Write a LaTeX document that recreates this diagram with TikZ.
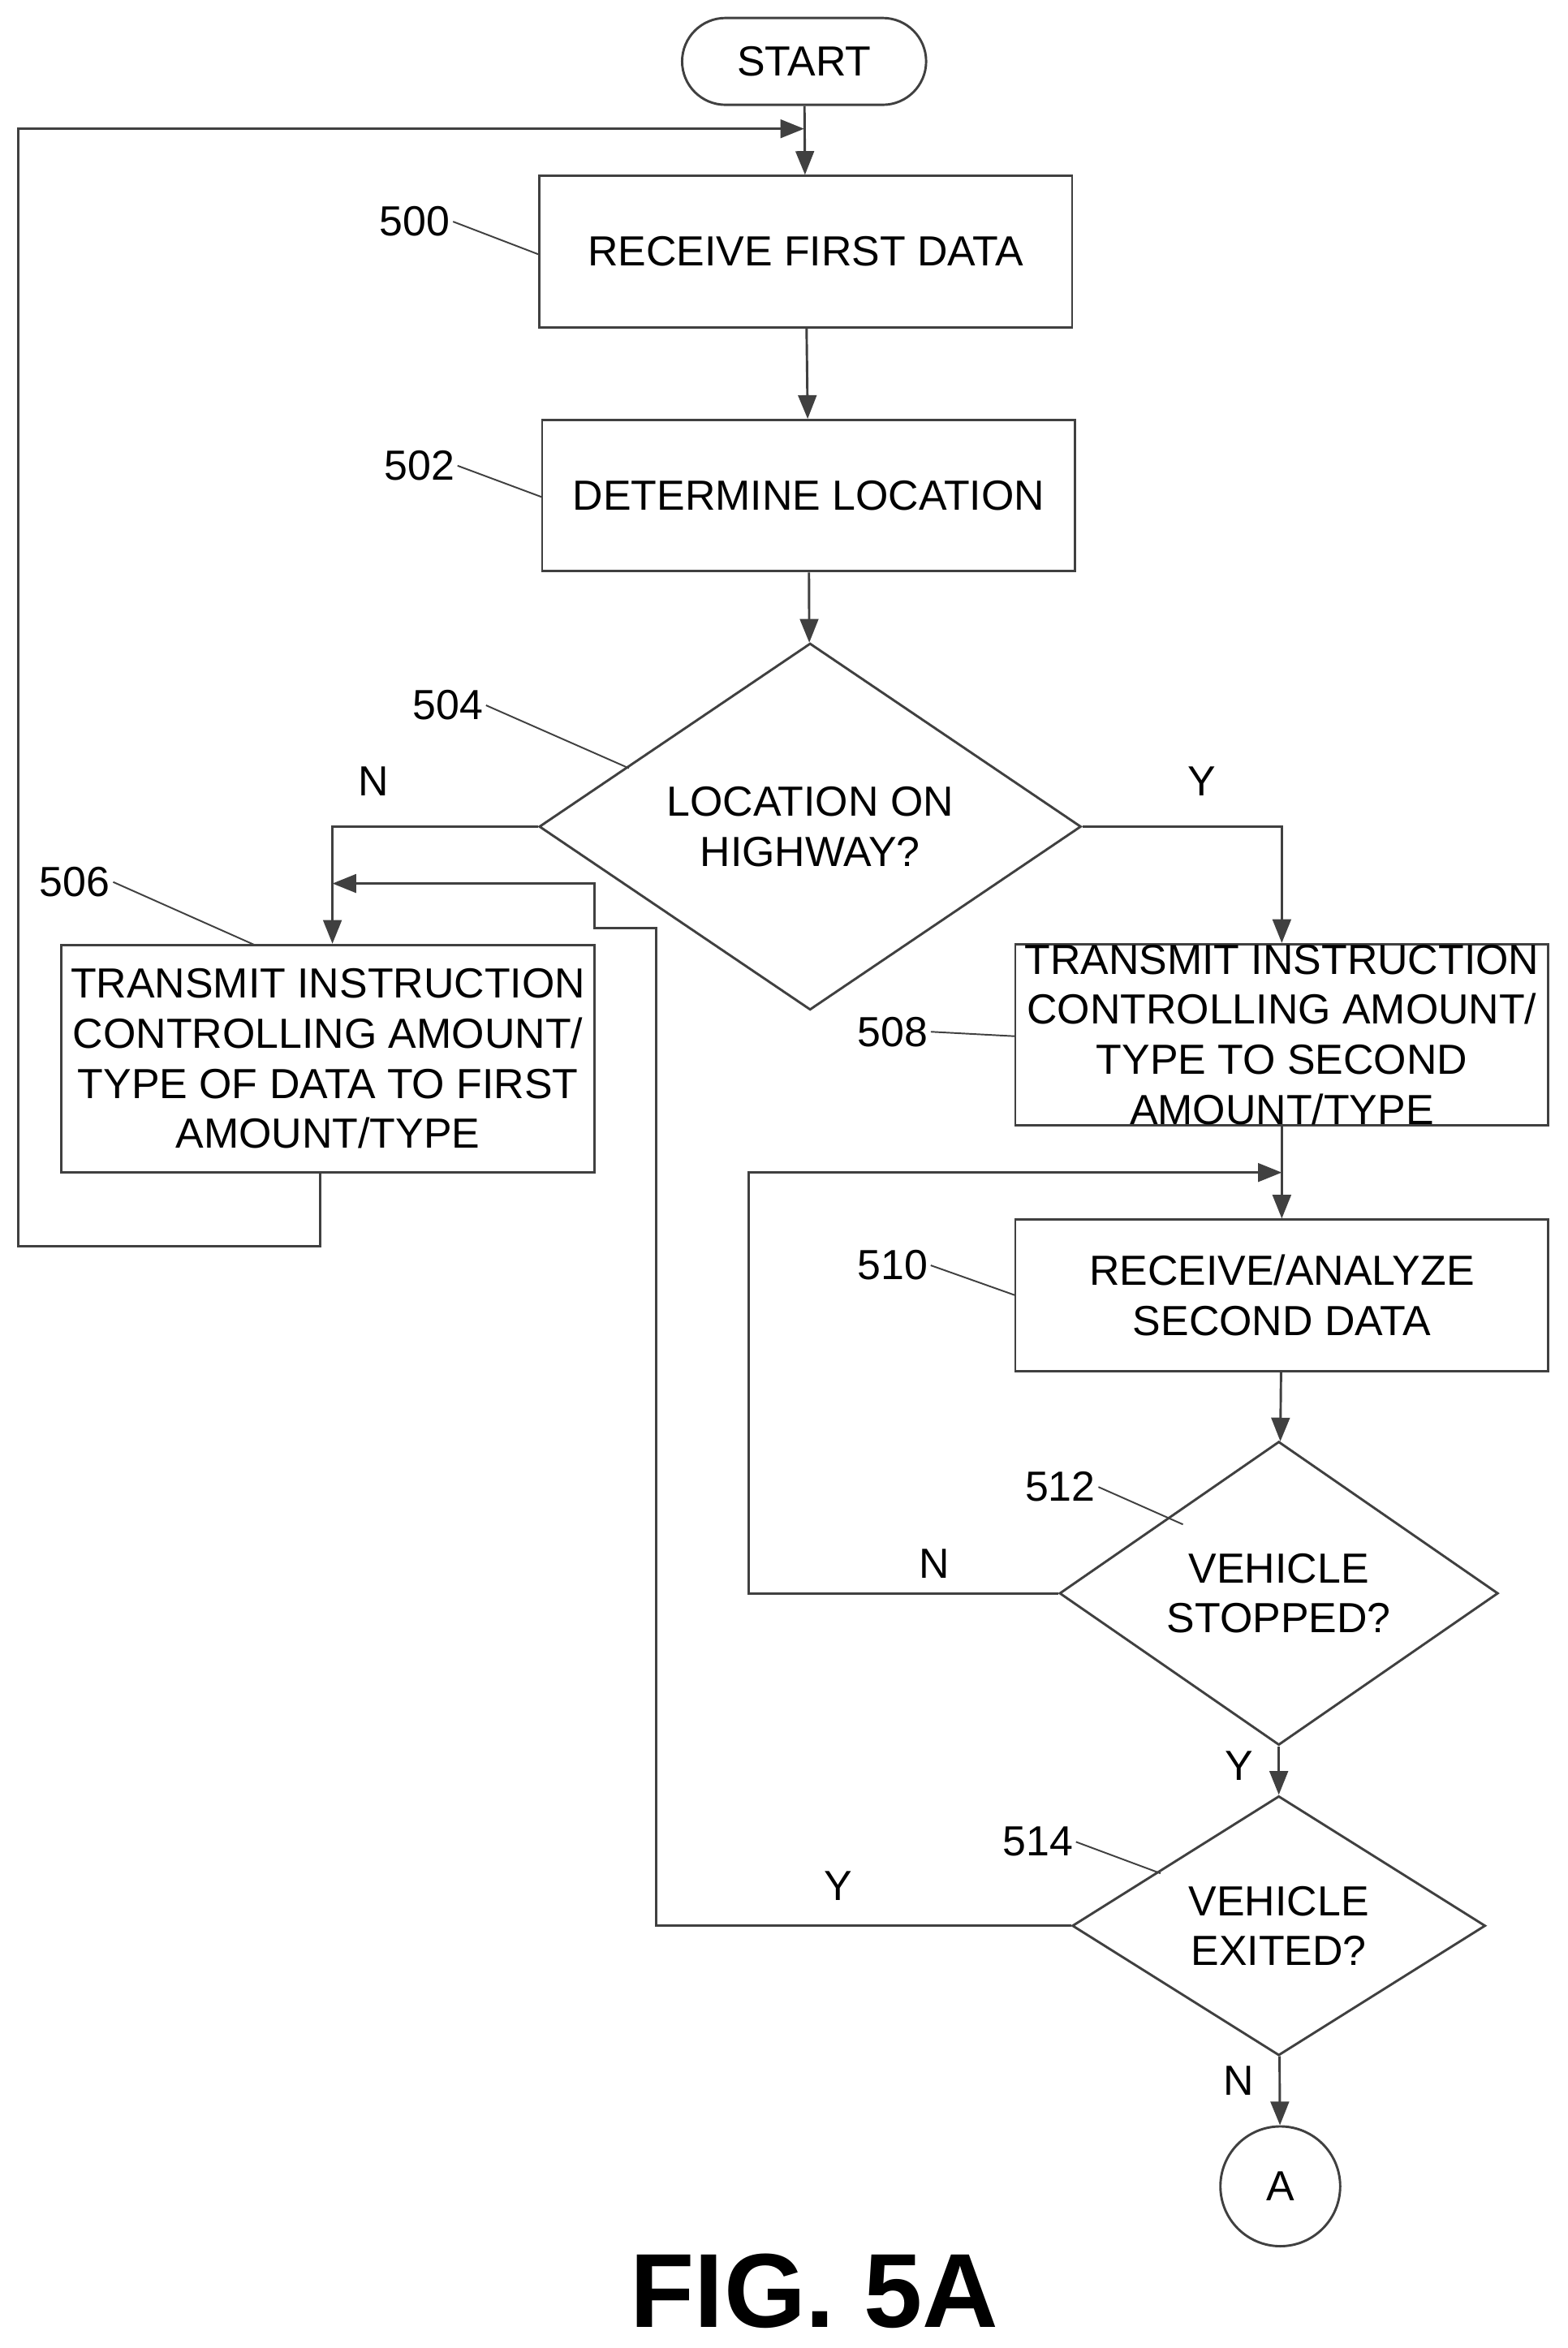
\documentclass[tikz,border=0pt]{standalone}
\usepackage{fontspec}
\setmainfont{Liberation Sans}
\usetikzlibrary{shapes.geometric,arrows.meta}
\tikzset{
  flow/.style={draw=black!75, line width=0.9pt, -{Triangle[length=9pt,width=7pt]}},
  line/.style={draw=black!75, line width=0.9pt},
  box/.style={draw=black!75, line width=0.9pt, rectangle, minimum width=7.12cm, minimum height=2.02cm, align=center, inner sep=2pt},
  decision/.style={draw=black!75, line width=0.9pt, diamond, inner sep=0pt, align=center},
  txt/.style={font=\fontsize{16}{19}\selectfont},
  ref/.style={font=\fontsize{16}{19}\selectfont, inner sep=1pt}
}
\begin{document}
\begin{tikzpicture}[x=0.02cm,y=-0.02cm,txt]
 \useasboundingbox (0,0) rectangle (1047,1568);
 % main flow
 \node[name=start, draw=black!75, line width=0.9pt, rounded corners=0.58cm, minimum width=3.26cm, minimum height=1.16cm] at (537,41) {START};
 \node[name=recv, box] at (538,168) {RECEIVE FIRST DATA};
 \node[name=loc, box] at (540,331) {DETERMINE LOCATION};
 \node[name=hwy, decision, minimum width=7.24cm, minimum height=4.28cm] at (541,552) {LOCATION ON\\HIGHWAY?};
 \node[name=first, box, minimum height=3.04cm] at (219,707) {TRANSMIT INSTRUCTION\\CONTROLLING AMOUNT/\\TYPE OF DATA TO FIRST\\AMOUNT/TYPE};
 \node[name=second, box, minimum height=2.42cm, inner sep=0pt] at (856,691) {TRANSMIT INSTRUCTION\\CONTROLLING AMOUNT/\\TYPE TO SECOND\\AMOUNT/TYPE};
 \node[name=analyze, box] at (856,865) {RECEIVE/ANALYZE\\SECOND DATA};
 \node[name=stopped, decision, minimum width=5.86cm, minimum height=3.46cm] at (854,1064) {VEHICLE\\STOPPED?};
 \node[name=exited, decision, minimum width=5.52cm, minimum height=3.2cm] at (854,1286) {VEHICLE\\EXITED?};
 \node[name=conA, draw=black!75, line width=0.9pt, circle, minimum size=1.6cm] at (855,1460) {A};
 \node[name=fig, font=\bfseries\fontsize{40}{44}\selectfont] at (544,1530) {FIG. 5A};
 \coordinate (join) at (537,86);
 \coordinate (join2) at (856,783);
 % connectors
 \draw[flow] (start) -- (recv);
 \draw[flow] (recv) -- (loc);
 \draw[flow] (loc) -- (hwy);
 \draw[flow] (hwy.west) -| node[pos=0.4, above=8pt] {N} (first.north -| 222,0);
 \draw[flow] (hwy.east) -| node[pos=0.3, above=8pt] {Y} (second.north);
 \draw[flow] (first.south -| 214,0) |- (12,832) |- (join);
 \draw[flow] (second) -- (analyze);
 \draw[flow] (stopped.west) -| node[pos=0.2, above=2pt] {N} (500,783) -- (join2);
 \draw[flow] (analyze) -- (stopped);
 \draw[flow] (stopped) -- node[pos=0.4, left=6pt] {Y} (exited);
 \draw[flow] (exited.west) -| node[pos=0.28, above=6pt] {Y} (438,620) -| (397,590) -- (222,590);
 \draw[flow] (exited) -- node[pos=0.35, left=6pt] {N} (conA);
 % reference numerals
 \node[name=r500, ref] at (277,148) {500};
 \node[name=r502, ref] at (280,311) {502};
 \node[name=r504, ref] at (299,471) {504};
 \node[name=r506, ref] at (50,589) {506};
 \node[name=r508, ref] at (596,689) {508};
 \node[name=r510, ref] at (596,845) {510};
 \node[name=r512, ref] at (708,993) {512};
 \node[name=r514, ref] at (693,1230) {514};
 \draw[line, line width=0.6pt] (r500.east) -- (360,170);
 \draw[line, line width=0.6pt] (r502.east) -- (362,332);
 \draw[line, line width=0.6pt] (r504.east) -- (420,513);
 \draw[line, line width=0.6pt] (r506.east) -- (170,631);
 \draw[line, line width=0.6pt] (r508.east) -- (678,692);
 \draw[line, line width=0.6pt] (r510.east) -- (678,865);
 \draw[line, line width=0.6pt] (r512.east) -- (790,1018);
 \draw[line, line width=0.6pt] (r514.east) -- (775,1251);
\end{tikzpicture}
\end{document}
